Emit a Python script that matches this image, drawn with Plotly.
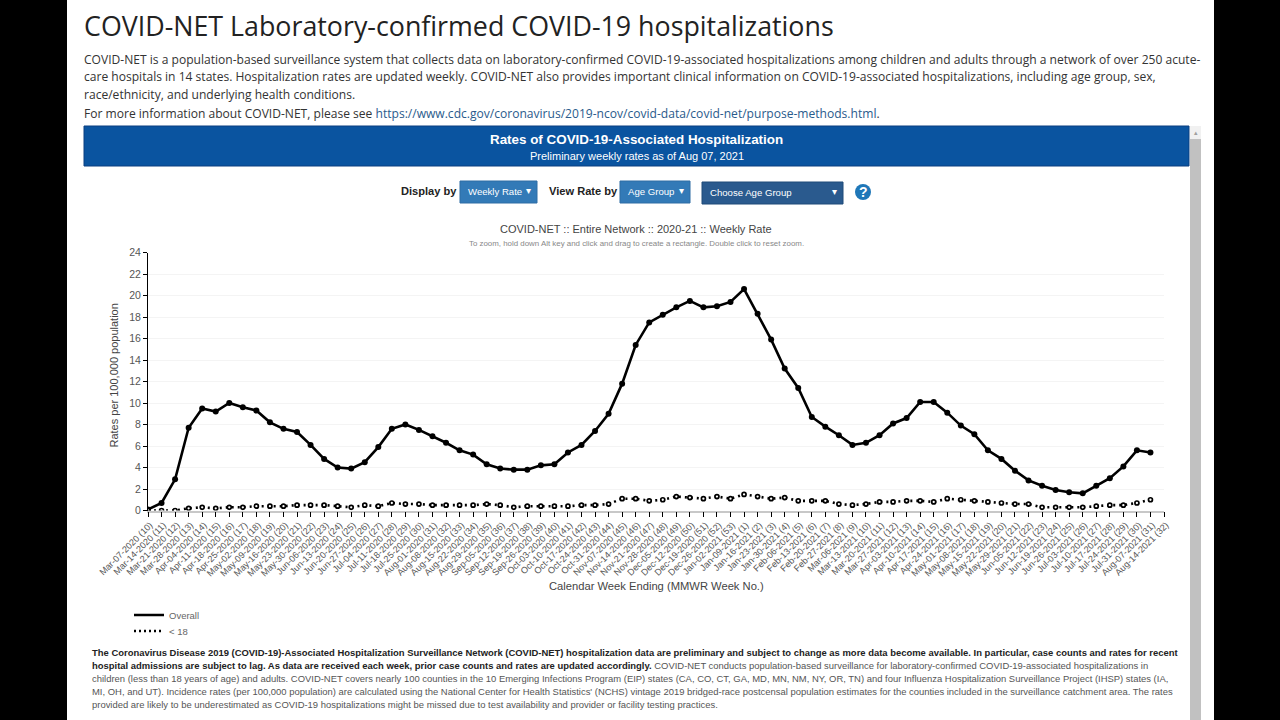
import plotly.graph_objects as go

W, H = 1280, 720

week_labels = [
"Mar-07-2020 (10)","Mar-14-2020 (11)","Mar-21-2020 (12)","Mar-28-2020 (13)","Apr-04-2020 (14)","Apr-11-2020 (15)","Apr-18-2020 (16)","Apr-25-2020 (17)",
"May-02-2020 (18)","May-09-2020 (19)","May-16-2020 (20)","May-23-2020 (21)","May-30-2020 (22)","Jun-06-2020 (23)","Jun-13-2020 (24)","Jun-20-2020 (25)","Jun-27-2020 (26)",
"Jul-04-2020 (27)","Jul-11-2020 (28)","Jul-18-2020 (29)","Jul-25-2020 (30)","Aug-01-2020 (31)","Aug-08-2020 (32)","Aug-15-2020 (33)","Aug-22-2020 (34)","Aug-29-2020 (35)",
"Sep-05-2020 (36)","Sep-12-2020 (37)","Sep-19-2020 (38)","Sep-26-2020 (39)","Oct-03-2020 (40)","Oct-10-2020 (41)","Oct-17-2020 (42)","Oct-24-2020 (43)","Oct-31-2020 (44)",
"Nov-07-2020 (45)","Nov-14-2020 (46)","Nov-21-2020 (47)","Nov-28-2020 (48)","Dec-05-2020 (49)","Dec-12-2020 (50)","Dec-19-2020 (51)","Dec-26-2020 (52)","Jan-02-2021 (53)",
"Jan-09-2021 (1)","Jan-16-2021 (2)","Jan-23-2021 (3)","Jan-30-2021 (4)","Feb-06-2021 (5)","Feb-13-2021 (6)","Feb-20-2021 (7)","Feb-27-2021 (8)","Mar-06-2021 (9)",
"Mar-13-2021 (10)","Mar-20-2021 (11)","Mar-27-2021 (12)","Apr-03-2021 (13)","Apr-10-2021 (14)","Apr-17-2021 (15)","Apr-24-2021 (16)","May-01-2021 (17)","May-08-2021 (18)",
"May-15-2021 (19)","May-22-2021 (20)","May-29-2021 (21)","Jun-05-2021 (22)","Jun-12-2021 (23)","Jun-19-2021 (24)","Jun-26-2021 (25)","Jul-03-2021 (26)","Jul-10-2021 (27)",
"Jul-17-2021 (28)","Jul-24-2021 (29)","Jul-31-2021 (30)","Aug-07-2021 (31)","Aug-14-2021 (32)"]

overall = [0.1,0.7,2.9,7.7,9.5,9.2,10.0,9.6,9.3,8.2,7.6,7.3,6.1,4.8,4.0,3.9,4.5,5.9,7.6,8.0,7.5,6.9,6.3,5.6,5.2,4.3,
3.9,3.8,3.8,4.2,4.3,5.4,6.1,7.4,9.0,11.8,15.4,17.5,18.2,18.9,19.5,18.9,19.0,19.4,
20.6,18.3,15.9,13.2,11.4,8.7,7.8,7.0,6.1,6.3,7.0,8.1,8.6,10.1,10.1,9.1,7.9,7.1,5.6,4.8,3.7,2.8,2.3,1.9,1.7,1.6,2.3,3.0,4.1,5.6,5.4,None]

under18 = [0,0,0,0.2,0.3,0.2,0.3,0.3,0.4,0.4,0.4,0.5,0.5,0.5,0.4,0.3,0.5,0.4,0.7,0.6,0.6,0.5,0.5,0.5,0.5,0.6,
0.5,0.3,0.4,0.4,0.4,0.4,0.5,0.5,0.6,1.1,1.1,0.9,1.0,1.3,1.2,1.1,1.3,1.1,
1.5,1.3,1.1,1.2,0.9,0.9,0.9,0.6,0.5,0.6,0.8,0.8,0.9,0.9,0.8,1.1,1.0,0.9,0.8,0.7,0.6,0.6,0.3,0.3,0.3,0.3,0.4,0.5,0.5,0.7,1.0,None]

y_ticks = list(range(0, 25, 2))

B = "<b><span style='color:#222222'>%s</span></b>"
intro_lines = [
"COVID-NET is a population-based surveillance system that collects data on laboratory-confirmed COVID-19-associated hospitalizations among children and adults through a network of over 250 acute-",
"care hospitals in 14 states. Hospitalization rates are updated weekly. COVID-NET also provides important clinical information on COVID-19-associated hospitalizations, including age group, sex,",
"race/ethnicity, and underlying health conditions.",
"For more information about COVID-NET, please see <span style='color:#2a5b8c'>https://www.cdc.gov/coronavirus/2019-ncov/covid-data/covid-net/purpose-methods.html</span>.",
]
foot_lines = [
B % "The Coronavirus Disease 2019 (COVID-19)-Associated Hospitalization Surveillance Network (COVID-NET) hospitalization data are preliminary and subject to change as more data become available. In particular, case counts and rates for recent",
B % "hospital admissions are subject to lag. As data are received each week, prior case counts and rates are updated accordingly." + " COVID-NET conducts population-based surveillance for laboratory-confirmed COVID-19-associated hospitalizations in",
"children (less than 18 years of age) and adults. COVID-NET covers nearly 100 counties in the 10 Emerging Infections Program (EIP) states (CA, CO, CT, GA, MD, MN, NM, NY, OR, TN) and four Influenza Hospitalization Surveillance Project (IHSP) states (IA,",
"MI, OH, and UT). Incidence rates (per 100,000 population) are calculated using the National Center for Health Statistics' (NCHS) vintage 2019 bridged-race postcensal population estimates for the counties included in the surveillance catchment area. The rates",
"provided are likely to be underestimated as COVID-19 hospitalizations might be missed due to test availability and provider or facility testing practices.",
]

def px(x): return x / W
def py(y): return 1 - y / H

shapes, ann = [], []
def rect(x0, y0, x1, y1, fill, line=None, layer="below"):
    shapes.append(dict(type="rect", xref="paper", yref="paper", x0=px(x0), x1=px(x1), y0=py(y0), y1=py(y1),
                       fillcolor=fill, line=dict(color=line or fill, width=1 if line else 0), layer=layer))
def text(x, y, s, size, color="#333333", family="Liberation Sans", anchor="left", angle=0):
    shift = -2 if anchor == "left" else 0
    ann.append(dict(xref="paper", yref="paper", x=px(x), y=py(y), xshift=shift, text=s, showarrow=False, xanchor=anchor, yanchor="middle",
                    align=anchor, textangle=angle, font=dict(size=size, color=color, family=family)))

# page furniture
rect(0, 0, 67, 720, "#000000")
rect(1214, 0, 1280, 720, "#000000")
rect(84, 126, 1189, 166, "#0a54a0", "#0a3f80")
rect(1190, 126, 1201, 720, "#f1f1f1")
rect(1190, 139, 1201, 720, "#c1c1c1")
rect(460, 181, 537, 203, "#337ab7", "#2e6da4")
rect(620, 181, 690, 203, "#337ab7", "#2e6da4")
rect(702, 182, 843, 204, "#2a5a8e", "#1f4a78")
shapes.append(dict(type="circle", xref="paper", yref="paper", x0=px(855), x1=px(871), y0=py(184), y1=py(200),
                   fillcolor="#1f77b8", line=dict(width=0)))

text(84, 26, "COVID-NET Laboratory-confirmed COVID-19 hospitalizations", 26.8, "#222222", "Open Sans")
for y, s in zip([59, 77, 95, 113], intro_lines):
    text(84, y, s, 12.07, "#333333", "Open Sans")
text(636.5, 139, "<b>Rates of COVID-19-Associated Hospitalization</b>", 13.4, "#ffffff", anchor="center")
text(636.5, 156, "Preliminary weekly rates as of Aug 07, 2021", 11, "#ffffff", anchor="center")
text(401, 191, "<b>Display by</b>", 11.1, "#222222")
text(549, 191, "<b>View Rate by</b>", 11.1, "#222222")
text(468, 192, "Weekly Rate", 9.6, "#ffffff")
text(628, 192, "Age Group", 9.6, "#ffffff")
text(710, 193, "Choose Age Group", 9.6, "#ffffff")
text(526, 191, "▾", 10, "#ffffff")
text(679, 191, "▾", 10, "#ffffff")
text(832, 192, "▾", 10, "#ffffff")
text(863, 192, "<b>?</b>", 14, "#ffffff", anchor="center")
text(1195.5, 132, "▴", 7, "#a0a0a0", anchor="center")
text(636, 229, "COVID-NET :: Entire Network :: 2020-21 :: Weekly Rate", 11.0, "#444444", anchor="center")
text(636, 243, "To zoom, hold down Alt key and click and drag to create a rectangle. Double click to reset zoom.", 7.9, "#888888", anchor="center")
for y, s in zip([652, 665, 678, 691, 704], foot_lines):
    text(92, y, s, 9.45, "#555555")
text(656, 586, "Calendar Week Ending (MMWR Week No.)", 11.2, "#444444", anchor="center")
text(113, 375.5, "Rates per 100,000 population", 11.0, "#444444", anchor="center", angle=-90)

fig = go.Figure()
fig.add_trace(go.Scatter(x=week_labels, y=overall, name="Overall", mode="lines+markers",
                         line=dict(color="#000000", width=2.6), marker=dict(color="#000000", size=6), showlegend=False))
fig.add_trace(go.Scatter(x=week_labels, y=under18, name="< 18", mode="lines+markers",
                         line=dict(color="#000000", width=2.6, dash="2px 4px"),
                         marker=dict(color="#ffffff", size=4, line=dict(color="#000000", width=1.7)), showlegend=False))
# legend keys: line only, as in the reference
fig.add_trace(go.Scatter(x=[None], y=[None], name="Overall", mode="lines", line=dict(color="#000000", width=2.4), legend="legend"))
fig.add_trace(go.Scatter(x=[None], y=[None], name="< 18", mode="lines", line=dict(color="#000000", width=2.4, dash="2px 3px"), legend="legend2"))

leg = dict(xanchor="left", yanchor="middle", bgcolor="rgba(0,0,0,0)", itemwidth=30, font=dict(size=9.5, color="#666666"))
fig.update_layout(
    width=W, height=H, margin=dict(l=0, r=0, t=0, b=0), autosize=False,
    paper_bgcolor="#ffffff", plot_bgcolor="#ffffff", shapes=shapes, annotations=ann,
    font=dict(family="Liberation Sans", size=10, color="#555555"),
    hovermode="closest",
    legend=dict(x=px(129), y=py(615), **leg),
    legend2=dict(x=px(129), y=py(631), **leg),
    xaxis=dict(domain=[px(148), px(1164)], type="category", categoryorder="array", categoryarray=week_labels,
               range=[0, 75], tickmode="array", tickvals=week_labels, ticktext=week_labels, tickangle=-45,
               ticks="outside", ticklen=5, tickcolor="#000000", tickwidth=1, showgrid=False,
               showline=True, linecolor="#c8c8c8", linewidth=1.5, zeroline=False, ticklabelshift=2, ticklabelstandoff=-1,
               tickfont=dict(size=9.1, color="#555555"), automargin=False),
    yaxis=dict(domain=[py(510.5), py(252.5)], range=[0, 24], tickmode="array", tickvals=y_ticks,
               ticks="outside", ticklen=4, tickcolor="#000000", showgrid=True, gridcolor="#f4f4f4", gridwidth=1,
               showline=True, linecolor="#000000", linewidth=1, zeroline=False,
               tickfont=dict(size=10.5, color="#555555"), automargin=False),
)
fig.write_html("out.html", config=dict(displayModeBar=False),
               post_script="document.body.style.margin='0';document.documentElement.style.overflow='hidden';")
